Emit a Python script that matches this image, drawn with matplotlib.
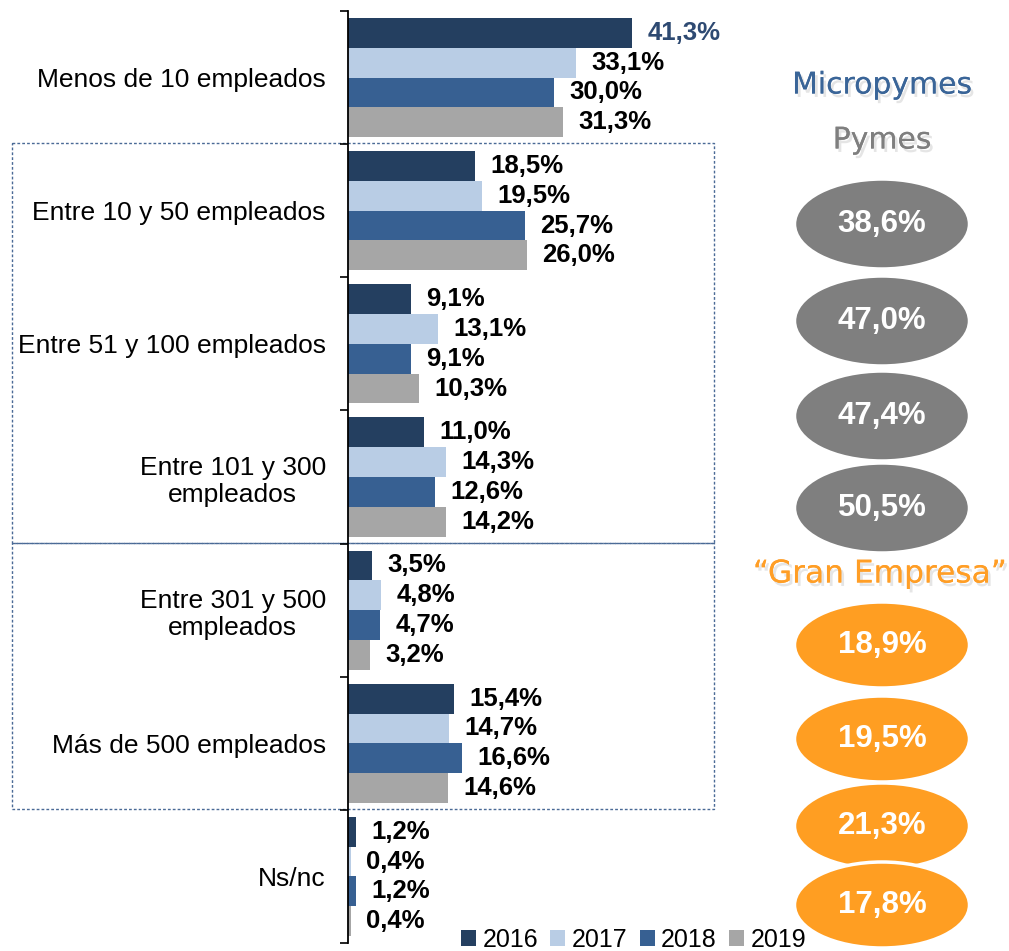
import numpy as np
import matplotlib.pyplot as plt
import matplotlib.patheffects as pe
from matplotlib.patches import Ellipse, Rectangle

plt.rcParams['font.family'] = ['Liberation Sans', 'DejaVu Sans']

categories = ['Menos de 10 empleados', 'Entre 10 y 50 empleados',
              'Entre 51 y 100 empleados', 'Entre 101 y 300\nempleados',
              'Entre 301 y 500\nempleados', 'Más de 500 empleados', 'Ns/nc']
years = ['2016', '2017', '2018', '2019']
v2016 = [41.3, 18.5, 9.1, 11.0, 3.5, 15.4, 1.2]
v2017 = [33.1, 19.5, 13.1, 14.3, 4.8, 14.7, 0.4]
v2018 = [30.0, 25.7, 9.1, 12.6, 4.7, 16.6, 1.2]
v2019 = [31.3, 26.0, 10.3, 14.2, 3.2, 14.6, 0.4]
colors = ['#243F60', '#B9CDE5', '#376092', '#A6A6A6']

pymes_vals = [38.6, 47.0, 47.4, 50.5]
gran_vals = [18.9, 19.5, 21.3, 17.8]

W, H = 1009, 951
fig = plt.figure(figsize=(W / 100, H / 100), dpi=100)

# main bar axes: spine at x=348 px, groups span y 11..943 px
ax = fig.add_axes([348 / W, 1 - 943 / H, 344 / W, 932 / H])
ax.set_facecolor('none')
ax.set_xlim(0, 50)
ax.set_ylim(len(categories) - 0.5, -0.5)

y = np.arange(len(categories))
h = 0.2237
series = [v2016, v2017, v2018, v2019]
for j, vals in enumerate(series):
    pos = y + (j - 1.5) * h
    bars = ax.barh(pos, vals, height=h, color=colors[j], label=years[j])
    for k, (p, v) in enumerate(zip(pos, vals)):
        col = '#2E4A72' if (j == 0 and k == 0) else 'black'
        ax.annotate(f'{v:.1f}%'.replace('.', ','), (v, p), xytext=(11, 0),
                    textcoords='offset points', ha='left', va='center',
                    fontsize=18.5, fontweight='bold', color=col,
                    annotation_clip=False)

for s in ['top', 'right', 'bottom']:
    ax.spines[s].set_visible(False)
ax.spines['left'].set_linewidth(1.3)
ax.set_xticks([])
ax.set_yticks(y)
ax.set_yticklabels(categories, fontsize=19, multialignment='center')
ax.tick_params(axis='y', which='major', length=0, pad=16)
ax.set_yticks(np.arange(-0.5, len(categories)), minor=True)
ax.tick_params(axis='y', which='minor', length=6, width=1.2)

# overlay in pixel coordinates for boxes and callouts
ov = fig.add_axes([0, 0, 1, 1])
ov.set_xlim(0, W)
ov.set_ylim(H, 0)
ov.axis('off')
ov.set_zorder(-1)

box_style = dict(fill=False, edgecolor='#4A6A96', linewidth=1.0, linestyle=(0, (2, 1.5)))
ov.add_patch(Rectangle((12, 143), 702, 400, **box_style))
ov.add_patch(Rectangle((12, 543), 702, 266, **box_style))

shadow = [pe.withSimplePatchShadow(offset=(2, -2.5), shadow_rgbFace='#999999', alpha=0.25), pe.Normal()]
ov.text(882, 85, 'Micropymes', ha='center', va='center', fontsize=21.5,
        color='#3A6598', family='DejaVu Sans', path_effects=shadow)
ov.text(882, 140, 'Pymes', ha='center', va='center', fontsize=21.5,
        color='#7F7F7F', family='DejaVu Sans', path_effects=shadow)
ov.text(880, 574, '\u201cGran Empresa\u201d', ha='center', va='center', fontsize=22.5,
        color='#FF9E26', family='DejaVu Sans', path_effects=shadow)

grey_y = [224, 321, 416, 508]
for cy, v in zip(grey_y, pymes_vals):
    ov.add_patch(Ellipse((882, cy), 175, 90, facecolor='#7F7F7F', edgecolor='white', linewidth=2.5))
    ov.text(882, cy, f'{v:.1f}%'.replace('.', ','), ha='center', va='center',
            fontsize=22.5, fontweight='bold', color='white')

orange_y = [645, 739, 826, 905]
for cy, v in zip(orange_y, gran_vals):
    ov.add_patch(Ellipse((882, cy), 175, 86, facecolor='#FF9E22', edgecolor='white', linewidth=2.5))
    ov.text(882, cy, f'{v:.1f}%'.replace('.', ','), ha='center', va='center',
            fontsize=22.5, fontweight='bold', color='white')

handles, labels = ax.get_legend_handles_labels()
fig.legend(handles, labels, loc='center', bbox_to_anchor=(0.628, 1 - 940 / H),
           ncol=4, frameon=False, fontsize=18, handlelength=0.6, handleheight=0.6,
           handletextpad=0.25, columnspacing=0.5, borderpad=0)

fig.savefig('out.png', dpi=100)
